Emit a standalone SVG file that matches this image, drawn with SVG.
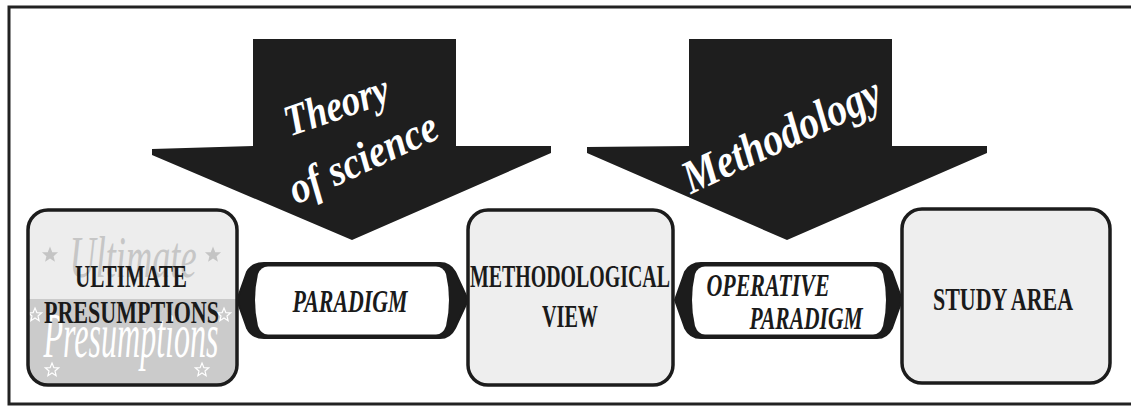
<svg xmlns="http://www.w3.org/2000/svg" width="1131" height="407" viewBox="0 0 1131 407">
<style>
.box{stroke:#1c1c1c;stroke-width:3.5}
.lbl{font-family:"Liberation Serif","Times New Roman",serif;font-weight:bold;font-size:31px;fill:#1a1a1a;text-anchor:middle}
.it{font-style:italic}
.big{font-family:"Liberation Serif","Times New Roman",serif;font-weight:bold;font-style:italic;fill:#ffffff;text-anchor:middle}
.arrow{fill:#1e1e1e}
.faint{font-family:"Liberation Serif","Times New Roman",serif;font-style:italic;text-anchor:middle}
</style>
<defs>
<path id="star" d="M0,-7 L1.9,-2.3 L6.7,-2.2 L3,1 L4.1,5.7 L0,3 L-4.1,5.7 L-3,1 L-6.7,-2.2 L-1.9,-2.3 Z"/>
<clipPath id="c1"><rect x="28" y="210" width="209" height="175" rx="20"/></clipPath>
</defs>
<rect width="1131" height="407" fill="#ffffff"/>
<rect x="9" y="7" width="1130" height="397" fill="none" stroke="#222" stroke-width="3"/>

<g id="arrow-theory">
<path class="arrow" d="M253,39 L456,39 L456,146 L551,146 L551,153 L352,240 L152,155 L152,149 L253,146 Z"/>
<text class="big" font-size="44" transform="translate(341,119) rotate(-19)" textLength="108" lengthAdjust="spacingAndGlyphs">Theory</text>
<text class="big" font-size="44" transform="translate(369,171) rotate(-25)" textLength="160" lengthAdjust="spacingAndGlyphs">of science</text>
</g>

<g id="arrow-methodology">
<path class="arrow" d="M689,39 L892,39 L892,146 L987,146 L987,153 L787,240 L587,153 L587,147 L689,146 Z"/>
<text class="big" font-size="47" transform="translate(788,149) rotate(-25)" textLength="214" lengthAdjust="spacingAndGlyphs">Methodology</text>
</g>

<g id="connectors">
<g id="paradigm">
<path fill="#1c1c1c" stroke="#1c1c1c" stroke-width="2" stroke-linejoin="round" d="M264,263 L440,263 Q450,263 455,272 L468,300 L455,328 Q450,338 440,338 L264,338 Q252,338 247,328 L237,300 L247,272 Q252,263 264,263 Z"/>
<path fill="#ffffff" d="M268,266.5 L436,266.5 Q443,266.5 446,274 Q452,300 446,326 Q443,334.5 436,334.5 L268,334.5 Q261,334.5 258,326 Q252,300 258,274 Q261,266.5 268,266.5 Z"/>
<text class="lbl it" x="350" y="312" textLength="115" lengthAdjust="spacingAndGlyphs">PARADIGM</text>
</g>
<g id="operative-paradigm">
<path fill="#1c1c1c" stroke="#1c1c1c" stroke-width="2" stroke-linejoin="round" d="M701,263 L877,263 Q887,263 892,272 L902,300 L892,328 Q887,338 877,338 L701,338 Q690,338 685,328 L675,300 L685,272 Q690,263 701,263 Z"/>
<path fill="#ffffff" d="M705,266.5 L873,266.5 Q880,266.5 883,274 Q889,300 883,326 Q880,334.5 873,334.5 L705,334.5 Q698,334.5 695,326 Q689,300 695,274 Q698,266.5 705,266.5 Z"/>
<text class="lbl it" x="768" y="296" textLength="123" lengthAdjust="spacingAndGlyphs">OPERATIVE</text>
<text class="lbl it" x="806" y="329" textLength="113" lengthAdjust="spacingAndGlyphs">PARADIGM</text>
</g>
</g>

<g id="ultimate-presumptions">
<g clip-path="url(#c1)">
<rect x="28" y="210" width="209" height="89" fill="#ededed"/>
<rect x="28" y="299" width="209" height="86" fill="#cbcbcb"/>
<text class="faint" x="133" y="277" font-size="60" fill="#c6c6c6" textLength="127" lengthAdjust="spacingAndGlyphs">Ultimate</text>
<text class="faint" x="131" y="357" font-size="64" fill="#ffffff" textLength="175" lengthAdjust="spacingAndGlyphs">Presumptions</text>
<use href="#star" transform="translate(50,255) scale(1.2)" fill="#c4c4c4"/>
<use href="#star" transform="translate(213,255) scale(1.2)" fill="#c4c4c4"/>
<use href="#star" transform="translate(35,315)" fill="none" stroke="#fff" stroke-width="1.2"/>
<use href="#star" transform="translate(224,315)" fill="none" stroke="#fff" stroke-width="1.2"/>
<use href="#star" transform="translate(52,370)" fill="none" stroke="#fff" stroke-width="1.2"/>
<use href="#star" transform="translate(202,370)" fill="none" stroke="#fff" stroke-width="1.2"/>
</g>
<rect class="box" x="28" y="210" width="209" height="175" rx="20" fill="none"/>
<text class="lbl" x="131" y="287" textLength="112" lengthAdjust="spacingAndGlyphs">ULTIMATE</text>
<text class="lbl" x="131.5" y="323" textLength="175" lengthAdjust="spacingAndGlyphs">PRESUMPTIONS</text>
</g>

<g id="methodological-view">
<rect class="box" x="468" y="210" width="205" height="175" rx="20" fill="#eeeeee"/>
<text class="lbl" x="570" y="287" textLength="200" lengthAdjust="spacingAndGlyphs">METHODOLOGICAL</text>
<text class="lbl" x="570" y="327" textLength="56" lengthAdjust="spacingAndGlyphs">VIEW</text>
</g>

<g id="study-area">
<rect class="box" x="902" y="209" width="208" height="174" rx="20" fill="#eeeeee"/>
<text class="lbl" x="1003" y="310" textLength="140" lengthAdjust="spacingAndGlyphs">STUDY AREA</text>
</g>
</svg>
